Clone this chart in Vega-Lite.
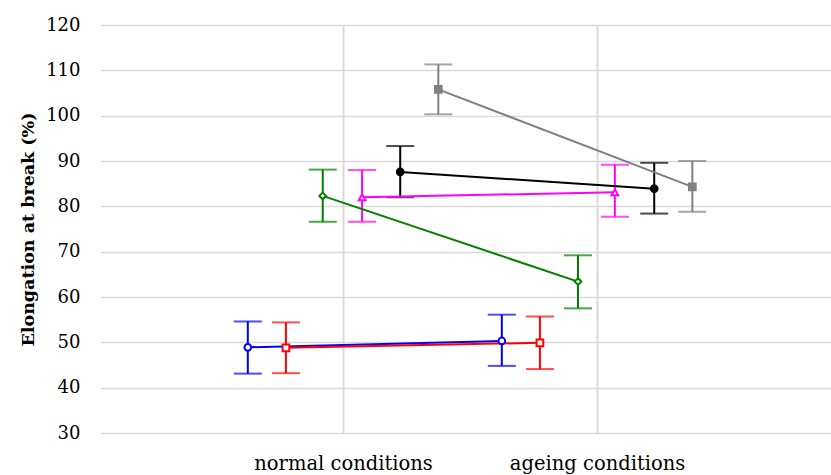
{
  "$schema": "https://vega.github.io/schema/vega-lite/v6.json",
  "width": 730,
  "height": 408,
  "autosize": "none",
  "padding": {"left": 101, "top": 25, "right": 0, "bottom": 42},
  "background": "white",
  "config": {"view": {"stroke": null}},
  "data": {
    "values": [
      {"series": "A", "cond": "normal", "x": 0.625, "y": 48.9, "lo": 43.1, "hi": 54.6},
      {"series": "A", "cond": "ageing", "x": 1.625, "y": 50.3, "lo": 44.8, "hi": 56.1},
      {"series": "B", "cond": "normal", "x": 0.775, "y": 48.8, "lo": 43.2, "hi": 54.4},
      {"series": "B", "cond": "ageing", "x": 1.775, "y": 49.9, "lo": 44.1, "hi": 55.7},
      {"series": "C", "cond": "normal", "x": 0.92, "y": 82.3, "lo": 76.6, "hi": 88.1},
      {"series": "C", "cond": "ageing", "x": 1.925, "y": 63.4, "lo": 57.5, "hi": 69.2},
      {"series": "D", "cond": "normal", "x": 1.075, "y": 82.0, "lo": 76.6, "hi": 88.0},
      {"series": "D", "cond": "ageing", "x": 2.07, "y": 83.1, "lo": 77.7, "hi": 89.2},
      {"series": "E", "cond": "normal", "x": 1.225, "y": 87.6, "lo": 82.0, "hi": 93.3},
      {"series": "E", "cond": "ageing", "x": 2.225, "y": 83.9, "lo": 78.4, "hi": 89.6},
      {"series": "F", "cond": "normal", "x": 1.375, "y": 105.8, "lo": 100.3, "hi": 111.3},
      {"series": "F", "cond": "ageing", "x": 2.375, "y": 84.3, "lo": 78.8, "hi": 90.0}
    ]
  },
  "encoding": {
    "x": {
      "field": "x", "type": "quantitative",
      "scale": {"domain": [0.047, 2.921], "nice": false, "zero": false},
      "axis": {
        "values": [1, 2], "title": null, "domain": false, "ticks": false, "tickSize": 0,
        "labelExpr": "datum.value == 1 ? 'normal conditions' : 'ageing conditions'",
        "labelFont": "DejaVu Serif", "labelFontSize": 19.5, "labelColor": "#000000",
        "labelBaseline": "alphabetic", "labelPadding": 36,
        "grid": true, "gridColor": "#d9d9d9", "gridWidth": 2
      }
    },
    "color": {
      "field": "series", "type": "nominal", "legend": null,
      "scale": {"domain": ["A", "B", "C", "D", "E", "F"], "range": ["#0000ff", "#ff0000", "#008000", "#ff00ff", "#000000", "#808080"]}
    }
  },
  "layer": [
    {
      "mark": {"type": "rule", "strokeWidth": 2},
      "encoding": {
        "y": {
          "field": "lo", "type": "quantitative",
          "scale": {"domain": [30, 120], "nice": false, "zero": false},
          "axis": {
            "values": [30, 40, 50, 60, 70, 80, 90, 100, 110, 120],
            "title": "Elongation at break (%)",
            "titleFont": "DejaVu Serif", "titleFontSize": 17.5, "titleFontWeight": "bold", "titleColor": "#000000",
            "titleX": -64,
            "domain": false, "ticks": false, "tickSize": 0,
            "labelFont": "DejaVu Serif", "labelFontSize": 18, "labelColor": "#000000", "labelPadding": 21,
            "grid": true, "gridColor": "#d9d9d9", "gridWidth": 1.5
          }
        },
        "y2": {"field": "hi"}
      }
    },
    {
      "mark": {"type": "tick", "orient": "horizontal", "size": 28, "thickness": 2},
      "encoding": {"y": {"field": "lo", "type": "quantitative"}}
    },
    {
      "mark": {"type": "tick", "orient": "horizontal", "size": 28, "thickness": 2},
      "encoding": {"y": {"field": "hi", "type": "quantitative"}}
    },
    {
      "mark": {"type": "line", "strokeWidth": 2},
      "encoding": {"y": {"field": "y", "type": "quantitative"}, "detail": {"field": "series"}}
    },
    {
      "mark": {"type": "point", "filled": false, "strokeWidth": 2, "size": 45, "opacity": 1},
      "encoding": {
        "y": {"field": "y", "type": "quantitative"},
        "shape": {
          "field": "series", "type": "nominal", "legend": null,
          "scale": {"domain": ["A", "B", "C", "D", "E", "F"], "range": ["circle", "square", "diamond", "triangle-up", "circle", "square"]}
        },
        "fill": {
          "field": "series", "type": "nominal", "legend": null,
          "scale": {"domain": ["A", "B", "C", "D", "E", "F"], "range": ["#ffffff", "#ffffff", "#ffffff", "#ffffff", "#000000", "#808080"]}
        }
      }
    }
  ]
}
